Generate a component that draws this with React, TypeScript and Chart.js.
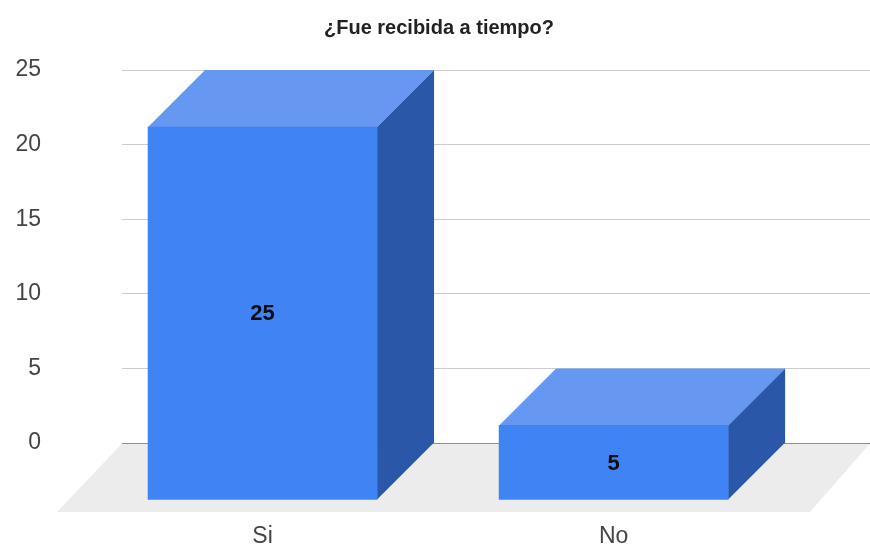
import React, { useEffect, useRef } from "react";
import { Chart, registerables } from "chart.js";

Chart.register(...registerables);

const categories = ["Si", "No"];
const responses = [25, 5];
const yTicks = [0, 5, 10, 15, 20, 25];
const chartTitle = "¿Fue recibida a tiempo?";

const frontColor = "#4084F4";
const topColor = "#6698F1";
const sideColor = "#2B57A8";
const floorColor = "#ECECEC";
const depth = 57;

// Extruded column look: the bar element itself is the front face, shifted
// down-left by the depth, while the top and side faces join it to the back plane.
const extrusion = {
  id: "extrusion",
  beforeDatasetsDraw(chart: any) {
    const { ctx, chartArea: a } = chart;
    const drop = 69;
    ctx.save();
    ctx.fillStyle = floorColor;
    ctx.beginPath();
    ctx.moveTo(a.left, a.bottom + 0.5);
    ctx.lineTo(a.right, a.bottom + 0.5);
    ctx.lineTo(a.right - 60, a.bottom + drop);
    ctx.lineTo(a.left - 65, a.bottom + drop);
    ctx.closePath();
    ctx.fill();
    ctx.restore();
  },
  beforeDatasetDraw(chart: any, args: any) {
    const { ctx } = chart;
    ctx.save();
    args.meta.data.forEach((bar: any) => {
      const { x, y, base, width } = bar.getProps(["x", "y", "base", "width"], true);
      const l = x - width / 2;
      const r = x + width / 2;
      ctx.fillStyle = topColor;
      ctx.beginPath();
      ctx.moveTo(l, y);
      ctx.lineTo(r, y);
      ctx.lineTo(r - depth, y + depth);
      ctx.lineTo(l - depth, y + depth);
      ctx.closePath();
      ctx.fill();
      ctx.fillStyle = sideColor;
      ctx.beginPath();
      ctx.moveTo(r, y);
      ctx.lineTo(r, base);
      ctx.lineTo(r - depth, base + depth);
      ctx.lineTo(r - depth, y + depth);
      ctx.closePath();
      ctx.fill();
    });
    ctx.translate(-depth, depth);
  },
  afterDatasetDraw(chart: any, args: any) {
    const { ctx } = chart;
    ctx.restore();
    ctx.save();
    ctx.fillStyle = "#0b0b14";
    ctx.font = 'bold 22px "Liberation Sans", Arial, sans-serif';
    ctx.textAlign = "center";
    ctx.textBaseline = "middle";
    args.meta.data.forEach((bar: any, i: number) => {
      const { x, y, base } = bar.getProps(["x", "y", "base"], true);
      ctx.fillText(String(responses[i]), x - depth, (y + base) / 2 + depth + 1);
    });
    ctx.restore();
  },
};

export default function App() {
  const ref = useRef<HTMLCanvasElement>(null);

  useEffect(() => {
    const chart = new Chart(ref.current as HTMLCanvasElement, {
      type: "bar",
      data: {
        datasets: [
          {
            data: responses.map((v, i) => ({ x: i, y: v })),
            backgroundColor: frontColor,
            barThickness: 229,
            clip: false,
          } as any,
        ],
      },
      plugins: [extrusion],
      options: {
        responsive: false,
        animation: false,
        layout: { padding: { left: 8, right: 0, top: 0, bottom: 0 } },
        plugins: {
          legend: { display: false },
          tooltip: { enabled: false },
          title: {
            display: true,
            text: chartTitle,
            color: "#222222",
            font: { family: '"Liberation Sans", Arial, sans-serif', size: 20, weight: "bold", lineHeight: 1.2 },
            padding: { top: 16, bottom: 30 },
          },
        },
        scales: {
          x: {
            type: "linear",
            offset: false,
            min: -0.5627,
            max: 1.568,
            grid: { display: false, offset: false },
            border: { display: false },
            afterBuildTicks(scale: any) {
              scale.ticks = categories.map((_, i) => ({ value: i }));
            },
            afterFit(scale: any) {
              scale.height = 103;
              scale.paddingLeft = 0;
              scale.paddingRight = 0;
              scale.paddingTop = 0;
              scale.paddingBottom = 0;
            },
            ticks: {
              autoSkip: false,
              maxRotation: 0,
              labelOffset: -depth,
              padding: 72,
              color: "#444444",
              font: { family: '"Liberation Sans", Arial, sans-serif', size: 23 },
              callback: (v: any) => categories[v],
            },
          },
          y: {
            min: 0,
            max: 25,
            border: { display: false },
            grid: {
              drawTicks: false,
              lineWidth: 1,
              color: (c: any) => (c.tick && c.tick.value === 0 ? "#333333" : "#CCCCCC"),
            },
            afterBuildTicks(scale: any) {
              scale.ticks = yTicks.map((value) => ({ value }));
            },
            afterFit(scale: any) {
              scale.width = 114;
              scale.paddingLeft = 0;
              scale.paddingRight = 0;
              scale.paddingTop = 0;
              scale.paddingBottom = 0;
            },
            ticks: {
              padding: 81,
              color: "#444444",
              font: { family: '"Liberation Sans", Arial, sans-serif', size: 23 },
            },
          },
        },
      },
    } as any);
    return () => chart.destroy();
  }, []);

  return (
    <canvas
      ref={ref}
      width={870}
      height={546}
      style={{ position: "absolute", left: 0, top: 0, width: 870, height: 546, display: "block" }}
    />
  );
}
